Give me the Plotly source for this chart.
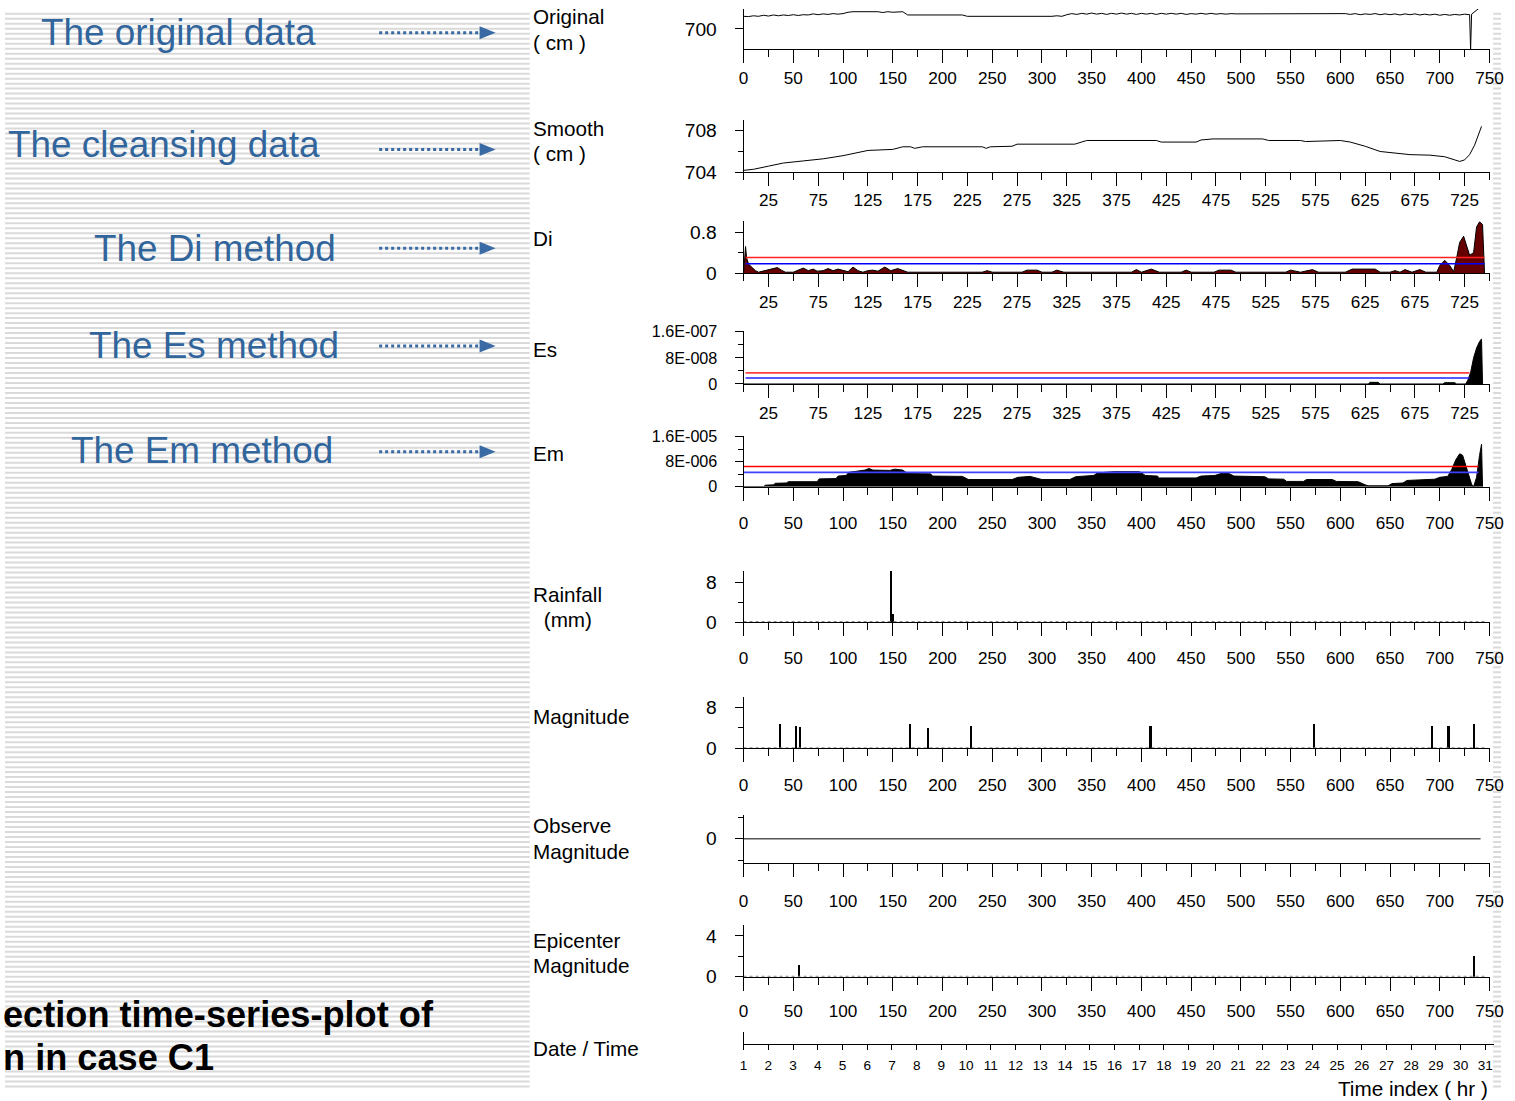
import plotly.graph_objects as go

W, H = 1515, 1101
FONT = "Liberation Sans, Arial, sans-serif"

# Positions; the photographed page comes out
# slightly shrunk and shifted, so they are mapped back to page pixels here.
SX, AX, SY, AY = 0.9836, 8.3, 0.984, 7.2
FS = 1 / 0.99


def px(x):
    return ((x - AX) / SX) / W


def py(y):
    return 1 - ((y - AY) / SY) / H


# ---------------- data ----------------
orig_val = [
    704.6, 704.5, 704.8,
    704.6, 705.0, 704.7, 705.1, 704.8, 705.1, 704.9, 705.2, 704.9, 705.2,
    705.1, 705.5, 705.2, 705.5, 705.3, 705.6, 705.4, 705.6,
    706.1, 706.3, 706.3, 706.3, 706.3, 706.2, 706.3, 706.0, 706.3, 706.1, 706.3, 706.3,
    705.1, 705.1, 705.1, 705.1, 705.1, 705.1, 705.1, 705.3, 705.3, 705.1, 705.1, 705.1,
    704.6, 704.6, 704.7, 704.5, 704.7, 704.6, 704.7, 704.5, 704.7, 704.6,
    704.7, 704.5, 704.7, 704.6, 704.7, 704.5, 704.7, 704.6, 704.8, 704.6,
    705.2, 705.6, 705.3, 705.7, 705.4, 705.8, 705.4, 705.7, 705.3, 705.7,
    705.4, 705.8, 705.4, 705.7, 705.3, 705.7, 705.4, 705.7, 705.3, 705.7,
    705.4, 705.7, 705.4, 705.7, 705.3, 705.6, 705.4, 705.7, 705.4, 705.7,
    705.4, 705.6, 705.4, 705.6, 705.5, 705.5,
    705.4, 705.4, 705.4, 705.5, 705.4, 705.4, 705.4, 705.4, 705.4, 705.4,
    705.4, 705.4, 705.4, 705.4, 705.5, 705.4, 705.4, 705.4, 705.4, 705.4,
    705.6, 705.3, 705.6, 705.2, 705.5, 705.3, 705.6, 705.2, 705.5, 705.2,
    705.5, 705.1, 705.5, 705.2, 705.5, 705.1, 705.4, 705.1, 705.4, 705.0,
    705.3, 705.0, 705.3, 705.1, 705.4, 705.2,
]
orig_tail_idx = [731, 732, 735, 738, 741, 744]
orig_tail_val = [692.4, 705.4, 706.4, 707.6, 708.5, 708.9]
orig_idx = list(range(0, 731, 5)) + orig_tail_idx
orig_all = orig_val + orig_tail_val

smooth_idx = [0, 10, 25, 40, 60, 80, 100, 115, 125, 150,
              160, 168, 172, 180, 240, 244, 248, 270, 275, 333,
              338, 345, 415, 420, 455, 460, 472, 522, 528, 560,
              565, 600, 610, 625, 640, 660, 670, 690, 705, 715,
              720, 725, 730, 735, 740, 742]
smooth_val = [704.2, 704.3, 704.6, 704.9, 705.1, 705.3, 705.6, 705.9, 706.1, 706.2,
              706.45, 706.45, 706.3, 706.45, 706.45, 706.3, 706.45, 706.5, 706.7, 706.7,
              706.85, 707.05, 707.05, 706.9, 706.9, 707.1, 707.2, 707.2, 707.05, 707.05,
              706.95, 707.05, 706.9, 706.5, 706.0, 705.8, 705.7, 705.65, 705.5, 705.2,
              705.05, 705.2, 705.7, 706.6, 707.8, 708.4]

di_idx = [0, 2, 3, 5, 8, 12, 15, 20, 25, 30,
          34, 38, 42, 50, 55, 60, 65, 70, 74, 80,
          85, 90, 95, 100, 105, 110, 115, 120, 125, 130,
          135, 142, 148, 155, 160, 165, 200, 240, 245, 250,
          280, 285, 295, 300, 310, 315, 322, 390, 395, 400,
          410, 418, 440, 445, 450, 473, 478, 490, 495, 545,
          550, 560, 572, 578, 605, 612, 635, 640, 650, 655,
          660, 665, 672, 680, 686, 697, 700, 705, 710, 714,
          717, 720, 724, 727, 730, 734, 737, 740, 743, 745]
di_val = [0, 0.52, 0.30, 0.18, 0.12, 0.05, 0.02, 0.04, 0.06, 0.08,
          0.11, 0.06, 0.02, 0.02, 0.06, 0.10, 0.05, 0.08, 0.04, 0.05,
          0.09, 0.05, 0.08, 0.05, 0.03, 0.12, 0.05, 0.02, 0.05, 0.06,
          0.04, 0.12, 0.05, 0.09, 0.06, 0.02, 0.02, 0.02, 0.05, 0.02,
          0.02, 0.06, 0.06, 0.02, 0.02, 0.06, 0.02, 0.02, 0.07, 0.02,
          0.08, 0.02, 0.02, 0.06, 0.02, 0.02, 0.06, 0.06, 0.02, 0.02,
          0.06, 0.02, 0.07, 0.02, 0.02, 0.08, 0.08, 0.02, 0.02, 0.05,
          0.02, 0.07, 0.02, 0.07, 0.02, 0.02, 0.15, 0.25, 0.15, 0.03,
          0.30, 0.60, 0.72, 0.55, 0.35, 0.40, 0.90, 1.00, 0.95, 0]
di_red, di_blue = 0.306, 0.183
di_line_x = [2, 745]

es_idx = [0, 628, 630, 638, 640, 703, 705, 715, 717, 726, 728, 731, 734, 737, 740, 742, 743]
es_val = [0, 0, 5e-9, 5e-9, 0, 0, 4e-9, 4e-9, 0, 0, 1e-8, 3.5e-8, 8e-8, 1.1e-7, 1.3e-7, 1.38e-7, 0]
es_red, es_blue = 3.4e-8, 1.85e-8
es_line_x = [2, 730]

em_idx = [0, 20, 22, 30, 32, 43, 45, 74, 76, 93,
          95, 103, 106, 115, 122, 126, 130, 147, 152, 160,
          165, 188, 190, 220, 226, 270, 276, 288, 292, 300,
          328, 334, 352, 356, 372, 398, 404, 416, 418, 455,
          460, 474, 480, 488, 493, 524, 528, 543, 546, 563,
          566, 592, 596, 618, 625, 628, 648, 652, 663, 667,
          695, 700, 708, 712, 716, 720, 723, 726, 729, 732,
          734, 737, 740, 742, 743]
em_val = [0, 0, 0.5e-6, 0.6e-6, 1.1e-6, 1.2e-6, 1.6e-6, 1.6e-6, 2.5e-6, 2.6e-6,
          3.4e-6, 3.6e-6, 4.6e-6, 5.0e-6, 5.3e-6, 5.8e-6, 5.3e-6, 5.2e-6, 5.6e-6, 5.3e-6,
          4.2e-6, 4.1e-6, 3.4e-6, 3.3e-6, 2.3e-6, 2.3e-6, 3.0e-6, 3.3e-6, 3.0e-6, 2.3e-6,
          2.3e-6, 3.2e-6, 3.6e-6, 4.4e-6, 4.8e-6, 4.8e-6, 3.6e-6, 3.4e-6, 2.8e-6, 2.8e-6,
          3.4e-6, 3.6e-6, 4.2e-6, 4.2e-6, 3.4e-6, 3.2e-6, 2.5e-6, 2.4e-6, 1.7e-6, 1.7e-6,
          2.3e-6, 2.3e-6, 1.7e-6, 1.6e-6, 0.6e-6, 0.3e-6, 0.3e-6, 1.0e-6, 1.2e-6, 2.0e-6,
          2.4e-6, 3.0e-6, 3.3e-6, 5.5e-6, 8.5e-6, 10.5e-6, 10.0e-6, 7.0e-6, 3.5e-6, 0.8e-6,
          0.0, 3.0e-6, 10.0e-6, 13.5e-6, 0]
em_red, em_blue = 6.46e-6, 4.55e-6
em_line_x = [0, 739]

rain_idx = [148, 150]
rain_val = [10.4, 1.8]
rain_w = [1.6, 1.6]

mag_idx = [36, 52.5, 56.5, 166.5, 184.7, 228, 408.8, 573, 692, 708.6, 733.8]
mag_val = [4.7, 4.4, 4.1, 4.7, 4.0, 4.4, 4.4, 4.7, 4.4, 4.4, 4.7]
mag_w = [1.0, 1.0, 2.2, 2.2, 1.0, 2.2, 2.2, 2.2, 2.0, 2.0, 1.0]

obs_idx = [0, 741]
obs_val = [0, 0]

epi_idx = [55.5, 734]
epi_val = [1.14, 2.1]
epi_w = [2.0, 1.0]

baseline_x = [0, 745]

day_ticks = list(range(1, 32))

# ---------------- panels ----------------
# (top px, axis px, y range, major tickvals, ticktext, minor tickvals, x-label style, label standoff, ytick font)
panels = [
    (7.2, 47.7, [692.4, 707.3], [700], ["700"], [], "A", 0, 19),
    (118, 171, [704, 709.05], [704, 708], ["704", "708"], [706], "B", -1, 19),
    (220, 272, [0, 1.01], [0, 0.8], ["0", "0.8"], [0.4], "B", 0, 19),
    (330, 383, [0, 1.62e-7], [0, 8e-8, 1.6e-7], ["0", "8E-008", "1.6E-007"], [4e-8, 1.2e-7], "B", 0, 16),
    (435, 486, [0, 1.62e-5], [0, 8e-6, 1.6e-5], ["0", "8E-006", "1.6E-005"], [4e-6, 1.2e-5], "A", 8, 16),
    (570, 622, [0, 10.4], [0, 8], ["0", "8"], [4], "A", 7, 19),
    (697, 748, [0, 10], [0, 8], ["0", "8"], [4], "A", 8, 19),
    (815, 863, [-1.13, 1.1], [0], ["0"], [-1, 1], "A", 9, 19),
    (925, 977, [0, 5.1], [0, 4], ["0", "4"], [2], "A", 6, 19),
]

fig = go.Figure()
layout = {}


def ax_name(kind, i):
    return kind + ("" if i == 1 else str(i))


for i, (top, bot, yr, tv, tt, mv, style, gap, yfs) in enumerate(panels, start=1):
    xk, yk = ax_name("xaxis", i), ax_name("yaxis", i)
    xa, ya = ax_name("x", i), ax_name("y", i)
    if style == "A":
        xt = list(range(0, 751, 50))
        xm = list(range(25, 751, 50))
    else:
        xt = list(range(25, 726, 50))
        xm = list(range(0, 751, 50))
    layout[xk] = dict(
        domain=[px(744), px(1487)], range=[0, 750], anchor=ya,
        showline=True, linecolor="black", linewidth=1, mirror=False,
        ticks="outside", ticklen=13, tickwidth=1, tickcolor="black",
        tickmode="array", tickvals=xt, ticktext=[str(v) for v in xt],
        minor=dict(tickmode="array", tickvals=xm, ticklen=7, ticks="outside",
                   tickcolor="black", tickwidth=1),
        tickfont=dict(family=FONT, size=17 * FS, color="black"),
        ticklabelstandoff=gap, ticklabeloverflow="allow",
        showgrid=False, zeroline=False, fixedrange=True,
    )
    ydict = dict(
        domain=[py(bot), min(1, py(top))], range=yr, anchor=xa,
        showline=True, linecolor="black", linewidth=1,
        ticks="outside", ticklen=8, tickwidth=1, tickcolor="black",
        tickmode="array", tickvals=tv, ticktext=tt,
        tickfont=dict(family=FONT, size=yfs * FS, color="black"),
        ticklabelstandoff=14,
        showgrid=False, zeroline=False, fixedrange=True,
    )
    if mv:
        ydict["minor"] = dict(tickmode="array", tickvals=mv, ticklen=5, ticks="outside",
                              tickcolor="black", tickwidth=1)
    layout[yk] = ydict

# date panel
layout["xaxis10"] = dict(
    domain=[px(744), min(1, px(1491))], range=[1, 31.33], anchor="y10",
    showline=True, linecolor="black", linewidth=1,
    ticks="outside", ticklen=5, tickcolor="black",
    tickmode="array", tickvals=day_ticks, ticktext=[str(d) for d in day_ticks],
    tickfont=dict(family=FONT, size=13.5 * FS, color="black"),
    ticklabelstandoff=4, ticklabeloverflow="allow",
    showgrid=False, zeroline=False, fixedrange=True,
)
layout["yaxis10"] = dict(
    domain=[py(1044.3), py(1032)], range=[0, 1], anchor="x10",
    showline=True, linecolor="black", linewidth=1, ticks="",
    showticklabels=False, showgrid=False, zeroline=False, fixedrange=True,
)


def add(tr, i):
    tr.update(xaxis=ax_name("x", i), yaxis=ax_name("y", i), showlegend=False,
              hoverinfo="skip")
    fig.add_trace(tr)


# 1 Original
add(go.Scatter(x=orig_idx, y=orig_all, mode="lines", line=dict(color="black", width=1)), 1)
# 2 Smooth
add(go.Scatter(x=smooth_idx, y=smooth_val, mode="lines", line=dict(color="black", width=1)), 2)
# 3 Di
add(go.Scatter(x=di_idx, y=di_val, mode="lines", fill="tozeroy", fillcolor="#640000",
               line=dict(color="black", width=1)), 3)
add(go.Scatter(x=di_line_x, y=[di_red, di_red], mode="lines", line=dict(color="#ff2020", width=1.6)), 3)
add(go.Scatter(x=di_line_x, y=[di_blue, di_blue], mode="lines", line=dict(color="#0000ff", width=1.6)), 3)
# 4 Es
add(go.Scatter(x=es_idx, y=es_val, mode="lines", fill="tozeroy", fillcolor="black",
               line=dict(color="black", width=1)), 4)
add(go.Scatter(x=es_line_x, y=[es_red, es_red], mode="lines", line=dict(color="#ff4040", width=1.8)), 4)
add(go.Scatter(x=es_line_x, y=[es_blue, es_blue], mode="lines", line=dict(color="#2020ff", width=1.6)), 4)
# 5 Em
add(go.Scatter(x=em_idx, y=em_val, mode="lines", fill="tozeroy", fillcolor="black",
               line=dict(color="black", width=1)), 5)
add(go.Scatter(x=em_line_x, y=[em_red, em_red], mode="lines", line=dict(color="#ff0000", width=1.5)), 5)
add(go.Scatter(x=em_line_x, y=[em_blue, em_blue], mode="lines", line=dict(color="#4040ff", width=1.8)), 5)
# 6 Rainfall
add(go.Scatter(x=baseline_x, y=[0, 0], mode="lines", line=dict(color="#8a8a8a", width=3, dash="dot")), 6)
add(go.Bar(x=rain_idx, y=rain_val, width=rain_w, marker=dict(color="black", line=dict(width=0))), 6)
# 7 Magnitude
add(go.Scatter(x=baseline_x, y=[0, 0], mode="lines", line=dict(color="#8a8a8a", width=2, dash="dot")), 7)
add(go.Bar(x=mag_idx, y=mag_val, width=mag_w, marker=dict(color="black", line=dict(width=0))), 7)
# 8 Observe Magnitude
add(go.Scatter(x=obs_idx, y=obs_val, mode="lines", line=dict(color="#555555", width=1.5)), 8)
# 9 Epicenter Magnitude
add(go.Scatter(x=baseline_x, y=[0, 0], mode="lines", line=dict(color="#8a8a8a", width=2, dash="dot")), 9)
add(go.Bar(x=epi_idx, y=epi_val, width=epi_w, marker=dict(color="black", line=dict(width=0))), 9)
# 10 date axis (empty trace to show the axis)
add(go.Scatter(x=[1], y=[-1], mode="markers", marker=dict(opacity=0)), 10)

# ---------------- background shapes ----------------
shapes = []
for k in range(224):
    y = -3 + 5 * k
    yp = py(y)
    if yp < 0 or yp > 1:
        continue
    shapes.append(dict(type="line", xref="paper", yref="paper", x0=0, x1=1,
                       y0=yp, y1=yp, line=dict(color="#dadada", width=2), layer="below"))
shapes.append(dict(type="rect", xref="paper", yref="paper", x0=px(531), x1=1507 / W,
                   y0=0, y1=1, fillcolor="white", line=dict(width=0), layer="below"))

ARROW = "#3a6aa3"
for ay in [31, 148, 247, 345, 451]:
    shapes.append(dict(type="line", xref="paper", yref="paper", x0=px(381), x1=px(484),
                       y0=py(ay), y1=py(ay), line=dict(color=ARROW, width=3, dash="dot")))
    path = "M {} {} L {} {} L {} {} Z".format(px(481), py(ay - 6.5), px(497), py(ay),
                                            px(481), py(ay + 6.5))
    shapes.append(dict(type="path", xref="paper", yref="paper", path=path,
                       fillcolor=ARROW, line=dict(width=0)))

# ---------------- text ----------------
ann = []


def txt(s, x, y, size, color="black", anchor="left", bold=False):
    ann.append(dict(text=("<b>%s</b>" % s) if bold else s, x=px(x), y=py(y),
                    xref="paper", yref="paper", xanchor=anchor, yanchor="middle",
                    showarrow=False, font=dict(family=FONT, size=size * FS, color=color)))


BLUE = "#31659c"
txt("The original data", 42, 31, 36.5, BLUE)
txt("The cleansing data", 9, 143, 36.5, BLUE)
txt("The Di method", 95, 247, 36.5, BLUE)
txt("The Es method", 90, 344, 36.5, BLUE)
txt("The Em method", 72, 450, 36.5, BLUE)

txt("ection time-series-plot of", 4, 1015, 35.8, bold=True)
txt("n in case C1", 4, 1058, 35.8, bold=True)

LS = 20.5
txt("Original", 532, 15, LS)
txt("( cm )", 532, 41, LS)
txt("Smooth", 532, 127, LS)
txt("( cm )", 532, 152, LS)
txt("Di", 532, 237, LS)
txt("Es", 532, 348, LS)
txt("Em", 532, 453, LS)
txt("Rainfall", 532, 594, LS)
txt(" (mm)", 537, 619, LS)
txt("Magnitude", 532, 716, LS)
txt("Observe", 532, 826, LS)
txt("Magnitude", 532, 852, LS)
txt("Epicenter", 532, 941, LS)
txt("Magnitude", 532, 966, LS)
txt("Date / Time", 532, 1049, LS)
txt("Time index ( hr )", 1487, 1089, LS, anchor="right")

fig.update_layout(
    width=W, height=H, autosize=False,
    margin=dict(l=0, r=0, t=0, b=0, pad=0),
    paper_bgcolor="white", plot_bgcolor="rgba(0,0,0,0)",
    showlegend=False, hovermode=False, bargap=0,
    shapes=shapes, annotations=ann,
    **layout,
)

fig.write_html("out.html", config={"displayModeBar": False},
               post_script="document.body.style.margin='0';")
